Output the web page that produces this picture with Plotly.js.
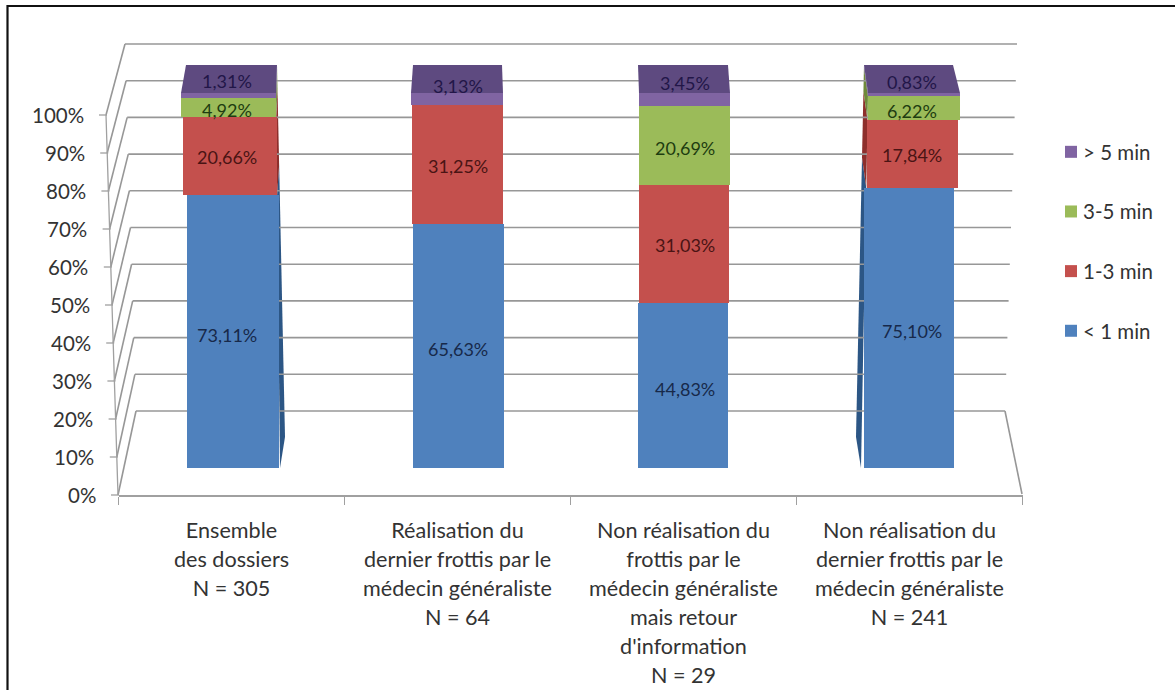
<!DOCTYPE html>
<html><head><meta charset="utf-8">
<script src="https://cdn.plot.ly/plotly-3.0.1.min.js"></script>
<style>html,body{margin:0;padding:0;background:#fff}#c{width:1175px;height:690px}.legendtext{transform:translateX(-8px)}</style>
</head><body><div id="c"></div>
<script>
const categories = [
 "Ensemble<br>des dossiers<br>N = 305",
 "Réalisation du<br>dernier frottis par le<br>médecin généraliste<br>N = 64",
 "Non réalisation du<br>frottis par le<br>médecin généraliste<br>mais retour<br>d'information<br>N = 29",
 "Non réalisation du<br>dernier frottis par le<br>médecin généraliste<br>N = 241"
];
const lessThan1 = [73.11, 65.63, 44.83, 75.10];
const from1to3 = [20.66, 31.25, 31.03, 17.84];
const from3to5 = [4.92, 0, 20.69, 6.22];
const moreThan5 = [1.31, 3.13, 3.45, 0.83];
const seriesNames = ["< 1 min", "1-3 min", "3-5 min", "> 5 min"];
const axisTicks = [0,10,20,30,40,50,60,70,80,90,100];

const W=1175,H=690, FONT="Lato, 'Open Sans', sans-serif", TXT="#333";
const allSeries=[lessThan1,from1to3,from3to5,moreThan5];
const colors=["#4f81bd","#c4504d","#9bbb59","#8064a2"];
const sideColors=["#2c5685","#8e2f2c","#6f8a3a","#5a4678"];
const inkColors=["#17294a","#4a1414","#1e3d10","#221648"];
const topColor="#5e4a80";
const px=x=>x/W, py=y=>1-y/H;
const GRID="#979797", AX="#a0a0a0";
const XL=118.5, XR=1022.5;           // category axis extent
const unit=(XR-XL)/4;
// perspective lean of each column: left/right edge at 0% and at 100%
const edge=[{l0:191,l1:181,r0:280,r1:276},{l0:414,l1:411,r0:504,r1:503},{l0:638,l1:639,r0:728,r1:730},{l0:861,l1:868,r0:950,r1:960}];
const backTop=[{l:186,r:277},{l:413,r:502},{l:638,r:728},{l:864,r:953}];
const lab=[-5,0,1.5,2.5];
const labY=[-1,-1.5,-2.5];
const labTop=[14,13,17,13];
const yBar=v=>Math.min(468,473-3.8*v), yFront=v=>495-3.8*v, yBack=v=>411-3.67*v;
const tick=s=>`<span style="font-size:21.6px">${s}</span>`;
const cats=categories.map(c=>c.split("<br>").map(tick).join("<br>"));
const pct=v=>v.toFixed(2).replace(".",",")+"%";

const traces=[]; const shapes=[]; const annotations=[];
const cum=[0,0,0,0];
allSeries.forEach((vals,s)=>{
  const off=[],wid=[];
  vals.forEach((v,i)=>{
    const m=(cum[i]+v/2)/100,e=edge[i];
    const l=e.l0+(e.l1-e.l0)*m,r=e.r0+(e.r1-e.r0)*m;
    const c=XL+unit*(i+.5);
    off.push((l-c)/unit); wid.push((r-l)/unit);
    const a=cum[i],b=cum[i]+v;
    if(v>0){
      if(i==0||i==3){
        const fx=u=>i==0?e.r0+(e.r1-e.r0)*u/100:e.l0+(e.l1-e.l0)*u/100;
        const bx=u=>i==0?285-8*u/100:856+8*u/100;
        const by=u=>437-3.72*u;
        shapes.push({type:"path",xref:"paper",yref:"paper",layer:"below",line:{width:0},fillcolor:sideColors[s],
          path:`M${px(fx(a))},${py(yBar(a))}L${px(fx(b))},${py(yBar(b))}L${px(bx(b))},${py(by(b))}L${px(bx(a))},${py(by(a))}Z`});
      }
      annotations.push({x:i,y:(a+b)/2,xref:"x",yref:"y",text:pct(v),showarrow:false,xshift:lab[i],yshift:s==3?labTop[i]:labY[s],
        yanchor:"middle",font:{family:FONT,size:18,color:inkColors[s]}});
    }
    cum[i]=b;
  });
  traces.push({type:"bar",name:seriesNames[s],legendgroup:seriesNames[s],legendrank:4-s,x:cats,y:vals,offset:off,width:wid,
    marker:{color:colors[s],line:{width:0}},hoverinfo:"skip",xaxis:"x",yaxis:"y"});
});
edge.forEach((e,i)=>{
  const b=backTop[i];
  shapes.push({type:"path",xref:"paper",yref:"paper",layer:"above",line:{width:0},fillcolor:topColor,
    path:`M${px(e.l1)},${py(93)}L${px(e.r1)},${py(93)}L${px(b.r)},${py(65)}L${px(b.l)},${py(65)}Z`});
});
const line=(x0,y0,x1,y1,c,w)=>shapes.push({type:"line",xref:"paper",yref:"paper",layer:"below",x0:px(x0),y0:py(y0),x1:px(x1),y1:py(y1),line:{color:c||GRID,width:w||1.6}});
axisTicks.forEach(v=>{
  const bl=136-11*v/100,br=1005+12*v/100,fl=118-12*v/100;
  line(bl,yBack(v),br,yBack(v));
  line(fl,yFront(v),bl,yBack(v));
  line(fl-7,yFront(v),fl+1,yFront(v),AX,1.3);
  annotations.push({x:px(fl-20.5),y:v,xref:"paper",yref:"y2",xanchor:"right",yanchor:"middle",showarrow:false,text:v+"%",
    font:{family:FONT,size:20.5,color:TXT}});
});
line(118,495,106,115,AX,1.3);
line(1005,411,1022,494,GRID,1.6);
// frame: top and left edges only
line(7,6,1175,6,"#111",2);
line(7.5,5,7.5,691,"#111",2.2);
traces.push({type:"scatter",mode:"markers",x:[cats[0]],y:[0],xaxis:"x",yaxis:"y2",showlegend:false,hoverinfo:"skip",marker:{opacity:0,size:1}});

const layout={
  width:W,height:H,margin:{l:0,r:0,t:0,b:0,pad:0},paper_bgcolor:"#fff",plot_bgcolor:"rgba(0,0,0,0)",
  barmode:"stack",bargap:0.595,showlegend:true,
  font:{family:FONT,color:TXT},
  xaxis:{type:"category",categoryorder:"array",categoryarray:cats,domain:[px(XL),px(XR)],anchor:"free",position:py(495),
    tickson:"boundaries",ticks:"outside",ticklen:8,tickcolor:AX,tickwidth:1.3,showline:true,linecolor:AX,linewidth:1.6,showgrid:false,
    tickfont:{family:FONT,size:22.3,color:TXT},tickangle:0,ticklabelstandoff:15,automargin:false,fixedrange:true},
  yaxis:{domain:[py(468),py(93)],range:[1.316,100],visible:false,fixedrange:true,anchor:"x"},
  yaxis2:{domain:[py(495),py(115)],range:[0,100],visible:false,fixedrange:true,anchor:"x"},
  legend:{x:px(1051),xanchor:"left",y:py(132),yanchor:"top",traceorder:"grouped",tracegroupgap:30,bgcolor:"rgba(0,0,0,0)",
    font:{family:FONT,size:20.5,color:TXT},itemclick:false,itemdoubleclick:false},
  shapes,annotations,hovermode:false
};
Plotly.newPlot("c",traces,layout,{displayModeBar:false,staticPlot:true});
</script></body></html>
